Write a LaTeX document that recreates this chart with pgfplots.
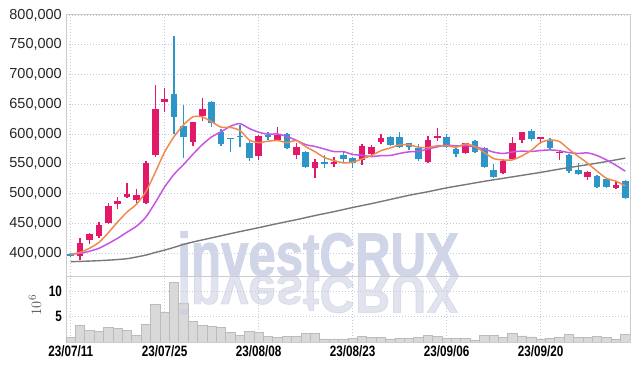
\documentclass[border=0pt]{standalone}
\usepackage{fontspec}
\setmainfont{Liberation Sans}
\newfontfamily\datefont{Liberation Sans}[FakeStretch=0.78]
\newfontfamily\wmfont{Liberation Sans}[FakeStretch=0.8, FakeBold=1.5]
\usepackage{pgfplots}
\usepackage{pgfplotstable}
\pgfplotsset{compat=1.18}

\definecolor{cred}{RGB}{226,24,104}
\definecolor{cblue}{RGB}{44,150,200}
\definecolor{cma5}{RGB}{238,138,78}
\definecolor{cma10}{RGB}{198,84,228}
\definecolor{cmal}{RGB}{120,120,120}
\definecolor{wm}{RGB}{208,214,232}
\definecolor{wmr}{RGB}{200,206,225}
\definecolor{gridc}{RGB}{196,202,220}
\definecolor{axc}{RGB}{204,204,204}
\definecolor{volf}{RGB}{217,217,217}
\definecolor{vold}{RGB}{188,188,188}

\pgfplotstableread{
i O H L C
1 395.5 424.7 388.3 416.3
2 421.9 433 416 432
3 429.1 451.6 424.8 447.1
4 451 484.6 449 479
5 481.9 494.6 473.5 487.4
6 494.6 517.1 492 499.2
7 489.6 507 484 497.5
8 484.6 554.6 483 551.8
9 564.7 682.3 561.8 642
10 654.2 677.8 637.4 658.8
13 586 620.5 579.8 619.6
14 630.2 661 622.3 641.5
20 563.5 598.3 556 596.6
22 590 611 587.5 598.3
24 564.2 584.4 557.5 577.6
26 542.4 557.5 526 552.9
28 549 561.8 545 552.4
31 556.3 582.7 547.9 579.8
32 566.3 582 561.8 577.6
33 587 600 582.7 592.7
38 552.4 596.6 551 589.9
39 593.8 609.6 588.2 597.1
42 567.6 585.5 566 584.4
46 533.9 557.5 532 555.3
47 557.5 595.5 555.5 584.4
48 590 603.5 584.4 602.8
50 591.6 595 583 594.4
52 567.6 572 556 570.2
55 527.2 537.5 522 536.6
58 509.8 521.5 507 514.3
}\up

\pgfplotstableread{
i O H L C
0 399 400.5 393 395.5
11 667.2 764.6 599.5 629
12 613.4 648.7 560 594.4
15 654.2 656 612 618
16 603.8 608 580 583.7
17 593 594 569 592
18 596 615 578.6 595
19 585.4 588.8 554.6 560.2
21 597.5 603.8 590 595.5
23 600.5 602 574.3 577
25 570.2 572 542.9 545
27 552.9 564.7 542.4 549
29 564 572 553 558.6
30 560.2 562 542.4 550.7
34 595.5 596.5 580 581.5
35 595.5 603.8 577 578.6
36 584.4 585.5 573 578.6
37 577 583 555 557.5
40 594.4 600 577 578.6
41 574.8 577 561.8 566.4
43 588.2 590 568 569.2
44 576 578 543.5 545
45 539.5 549 525.5 528.3
49 605 607.8 588.5 591.6
51 588.2 592.7 575.5 577
53 564.7 566 535 537.8
54 539.5 550.8 531 532.3
56 529.9 531 509 510.4
57 524.4 526 509 510.4
59 521.5 523 490.3 491.9
}\down

\pgfplotstableread{
i ma5 ma10
0 397.5 397.8
1 401.2 399.6
2 408.0 403.0
3 417.8 407.9
4 434.0 416.0
5 452.4 424.9
6 468.9 435.1
7 482.0 445.0
8 503.0 460.4
9 535.6 484.8
10 569.9 511.1
11 595.8 532.4
12 615.2 548.6
13 628.8 565.9
14 628.7 582.1
15 620.5 595.2
16 611.4 603.6
17 611.0 613.1
18 606.0 617.4
19 589.8 609.2
20 585.5 603.0
21 587.9 599.7
22 589.1 600.0
23 585.5 595.8
24 589.0 589.4
25 578.7 582.1
26 570.2 579.0
27 560.3 574.7
28 555.4 570.5
29 551.6 570.3
30 552.7 565.7
31 558.1 564.1
32 563.8 562.1
33 571.9 563.6
34 576.5 564.0
35 582.0 567.4
36 581.8 570.0
37 577.8 570.8
38 577.2 574.6
39 580.3 578.4
40 580.3 581.2
41 577.9 579.9
42 583.3 580.5
43 579.1 578.2
44 568.7 574.5
45 558.7 569.5
46 556.4 567.2
47 556.4 569.9
48 563.2 571.2
49 572.5 570.6
50 585.7 572.2
51 590.0 573.2
52 587.2 571.8
53 574.2 568.7
54 562.3 567.4
55 550.8 568.2
56 537.5 563.8
57 525.5 556.4
58 520.8 547.5
59 512.7 537.5
}\ma

\pgfplotstableread{
i v
0 385.4
2 386.5
4 388
6 390.5
8 396.5
9 401
10 405
11 409.5
12 414.5
13 418.5
14 422
16 429
18 436
20 442.6
22 449.5
24 456
26 463
28 469.5
30 476.5
32 483
34 490
36 497
38 503
40 509.5
42 515
44 520.5
46 525.5
48 530.5
50 535.5
52 541
54 546
56 551
58 556.5
59 559.5
}\malong

\pgfplotstableread{
i v
0 0.9
1 3.3
2 2.3
3 2.1
4 2.9
5 2.7
6 2.3
7 1.3
8 3.5
9 7.4
10 5.8
11 11.7
12 7.6
13 4.1
14 3.3
15 3.1
16 2.9
17 1.9
18 1.3
19 2.1
20 1.9
21 1.1
22 0.9
23 1.1
24 1.1
25 1.7
26 1.7
27 0.6
28 0.6
29 0.6
30 0.7
31 1.1
32 0.9
33 0.9
34 0.6
35 0.8
36 0.7
37 0.9
38 1.3
39 1.1
40 0.7
41 0.8
42 0.7
43 0.4
44 1.3
45 1.3
46 0.9
47 1.8
48 1.2
49 1.0
50 0.6
51 0.7
52 0.9
53 1.5
54 0.9
55 0.9
56 1.1
57 0.9
58 0.5
59 1.5
}\vol

\pgfplotsset{
  common/.style={
    scale only axis, width=564bp,
    xmin=-0.5, xmax=59.5,
    axis line style={draw=axc, line width=0.8bp},
    tick style={draw=none},
    grid=major,
    major grid style={draw=gridc, line width=0.7bp, dash pattern=on 1bp off 2bp},
    xtick={0,10,20,30,40,50},
    /pgf/number format/assume math mode=true,
  },
  candle/.style={draw=none, mark=none, error bars/.cd, y dir=plus, y explicit, error mark=none,
    error bar style={line width=#1}},
}

\begin{document}
\begin{tikzpicture}
\useasboundingbox (-66bp,-28bp) rectangle (573bp,342bp);

\begin{axis}[common, at={(0,0)}, anchor=south west, height=66bp,
  ymin=0, ymax=13, ytick={5,10},
  xticklabels={23/07/11,23/07/25,23/08/08,23/08/23,23/09/06,23/09/20},
  xticklabel style={font=\datefont\bfseries\fontsize{15bp}{15bp}\selectfont, text=black, inner sep=1bp, yshift=-2bp},
  yticklabel style={font=\datefont\bfseries\fontsize{15bp}{15bp}\selectfont, text=black, inner sep=1bp, xshift=-3bp},
  ylabel={$10^{6}$},
  ylabel style={at={(axis description cs:-0.055,0.56)}, anchor=center, text=black!70, font=\fontsize{15bp}{15bp}\selectfont},
]
\addplot[ybar, bar width=1, fill=volf, draw=vold, line width=0.6bp] table[x=i, y=v]{\vol};
\node[transform shape, yscale=-0.86, anchor=base, inner sep=0, text=wmr, text opacity=0.55,
  font=\wmfont\bfseries\fontsize{61.5bp}{61.5bp}\selectfont] at (rel axis cs:0.447,1) {investCRUX};
\end{axis}

\begin{axis}[common, at={(0,66bp)}, anchor=south west, height=262bp,
  ymin=361.4, ymax=801.6,
  ytick={400,450,500,550,600,650,700,750,800},
  yticklabels={{400,000},{450,000},{500,000},{550,000},{600,000},{650,000},{700,000},{750,000},{800,000}},
  xticklabels={},
  yticklabel style={font=\fontsize{14.5bp}{14.5bp}\selectfont, text=black!85, inner sep=1bp, xshift=-3bp},
]
\node[anchor=base, inner sep=0, text=wm, font=\wmfont\bfseries\fontsize{61.5bp}{61.5bp}\selectfont] at (rel axis cs:0.447,0) {investCRUX};
% wicks
\addplot[candle=1.3bp, error bar style={draw=cred}]
  table[x=i, y=L, y error expr=\thisrow{H}-\thisrow{L}]{\up};
\addplot[candle=1.3bp, error bar style={draw=cblue}]
  table[x=i, y=L, y error expr=\thisrow{H}-\thisrow{L}]{\down};
% bodies
\addplot[candle=6.6bp, error bar style={draw=cred}]
  table[x=i, y=O, y error expr=\thisrow{C}-\thisrow{O}]{\up};
\addplot[candle=6.6bp, error bar style={draw=cblue}]
  table[x=i, y=C, y error expr=\thisrow{O}-\thisrow{C}]{\down};
% moving averages
\addplot[cmal, line width=1.4bp, smooth, tension=0.4] table[x=i, y=v]{\malong};
\addplot[cma10, line width=1.5bp, smooth, tension=0.4] table[x=i, y=ma10]{\ma};
\addplot[cma5, line width=1.5bp, smooth, tension=0.4] table[x=i, y=ma5]{\ma};
\end{axis}
\end{tikzpicture}
\end{document}
